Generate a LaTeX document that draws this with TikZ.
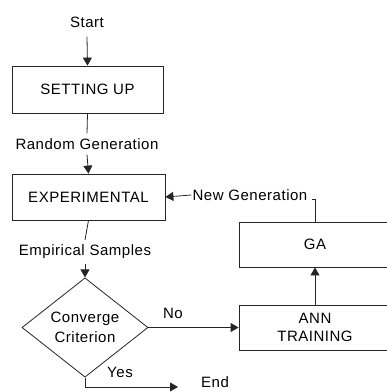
\documentclass[tikz,border=0pt]{standalone}
\usepackage{fontspec}
\setmainfont{Liberation Sans}[LetterSpace=3.5]
\usetikzlibrary{shapes.geometric,arrows.meta}
\begin{document}
\begin{tikzpicture}[x=1pt,y=-1pt,
  font=\fontsize{15}{20}\selectfont,
  line/.style={draw=black!85, line width=0.8pt},
  arr/.style={line, -{Triangle[length=8pt,width=9pt]}},
  box/.style={draw=black!85, line width=0.8pt, rectangle, inner sep=0pt, align=center},
  lbl/.style={inner sep=1pt, align=center},
  dia/.style={draw=black!85, line width=0.8pt, diamond, inner sep=0pt, align=center}]
\clip (0,0) rectangle (387,392);
\fill[white] (0,0) rectangle (387,392);
\node[lbl] (start) at (87,22) {Start};
\node[box, minimum width=151pt, minimum height=47pt] (setup) at (87.5,89.5) {SETTING UP};
\node[lbl] (rg) at (87,144) {Random Generation};
\node[box, minimum width=153pt, minimum height=46pt] (exp) at (88.5,197) {EXPERIMENTAL};
\node[lbl] (es) at (85,252) {Empirical Samples};
\node[dia, minimum width=126pt, minimum height=79pt] (cc) at (85,327.5) {Converge\\Criterion};
\node[box, minimum width=152pt, minimum height=45pt] (ga) at (315,244.5) {GA};
\node[box, minimum width=152pt, minimum height=45pt, font=\fontsize{15}{18}\selectfont] (ann) at (315,327.5) {ANN\\TRAINING};
\node[lbl] (no) at (173,313) {No};
\node[lbl] (yes) at (120,372) {Yes};
\node[lbl, inner sep=0pt] (end) at (215,382) {End};
\node[lbl] (ng) at (250,195) {New Generation};
\coordinate (endtip) at (178,387);
\coordinate (hook) at (312,199.5);
\draw[arr] ([yshift=-8pt]start.south) -- (setup.north);
\draw[line] (setup.south) -- ([yshift=4pt]rg.north);
\draw[arr] ([yshift=-4pt]rg.south) -- (exp.north);
\draw[line] (exp.south) -- ([yshift=4pt]es.north);
\draw[arr] ([yshift=-4pt]es.south) -- (cc.north);
\draw[arr] (cc.east) -- (ann.west);
\draw[arr] (cc.south) |- (endtip);
\draw[arr] (ann.north) -- (ga.south);
\draw[line] (ga.north) |- (hook);
\draw[arr] (ng.west) -- (exp.east);
\end{tikzpicture}
\end{document}
